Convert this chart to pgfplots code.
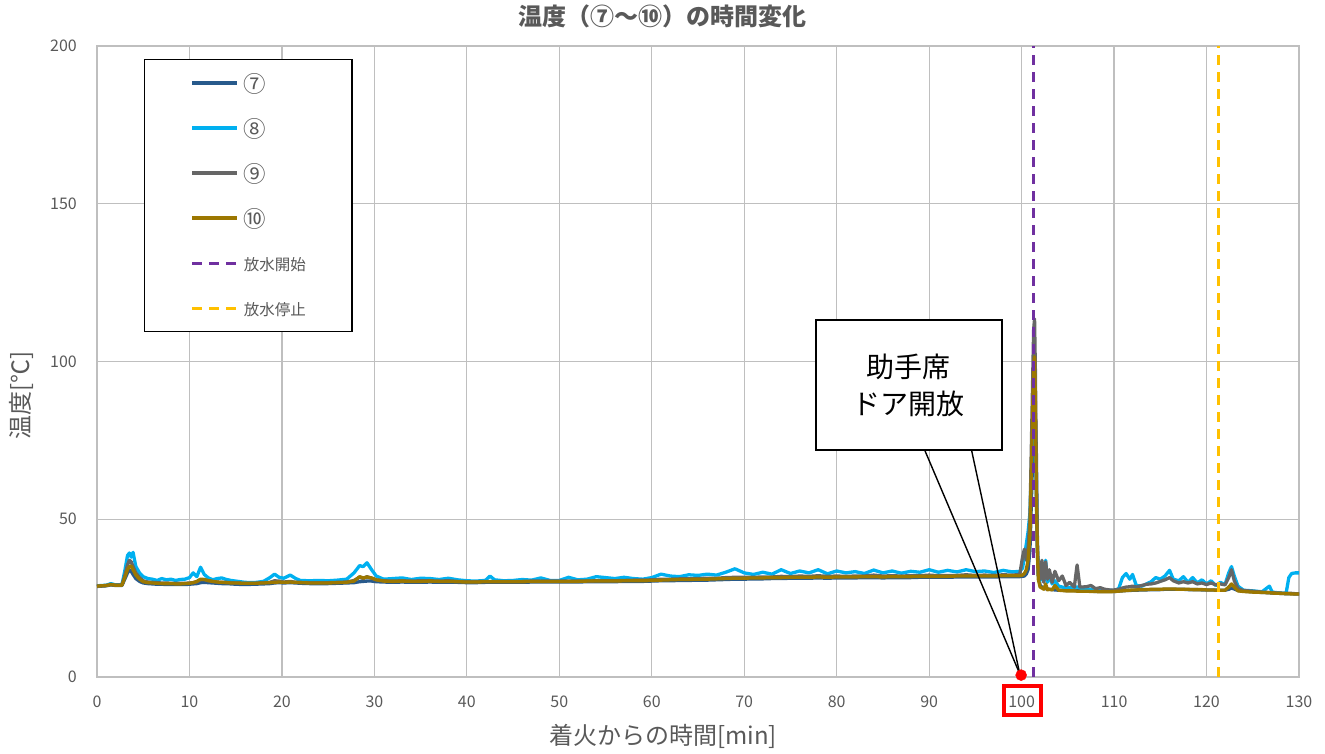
\documentclass[border=0pt]{standalone}
\usepackage{fontspec}
\setmainfont{Noto Sans CJK JP}
\usepackage{pgfplots}
\usepackage{pgfplotstable}
\pgfplotsset{compat=1.18}
\definecolor{c7}{HTML}{285A8C}
\definecolor{c8}{HTML}{00B0F0}
\definecolor{c9}{HTML}{666666}
\definecolor{c10}{HTML}{9C7700}
\definecolor{cstart}{HTML}{7030A0}
\definecolor{cstop}{HTML}{FFC000}
\definecolor{txt}{HTML}{595959}
\definecolor{gridc}{HTML}{BFBFBF}
\newcommand{\cn}[1]{\raisebox{-1.5pt}{\scalebox{1.45}{#1}}}
\pgfplotstableread{
t s7 s8 s9 s10
0 28.7 28.9 28.8 28.8
1 28.9 29.1 29.0 29.0
1.5 29.2 29.6 29.3 29.3
2 29.0 29.2 29.1 29.1
2.7 29.0 29.3 29.2 29.1
3.0 31.0 33.5 32.0 31.5
3.3 33.0 38.5 35.5 34.0
3.5 33.8 39.3 37.0 35.0
3.7 33.5 38.0 36.5 35.2
3.9 32.5 39.5 35.0 34.0
4.2 31.2 35.0 33.0 32.3
4.6 30.3 33.0 31.5 31.0
5.0 29.8 31.8 30.5 30.2
5.5 29.6 31.2 30.1 29.9
6 29.5 31.0 30.0 29.8
6.5 29.4 30.6 29.9 29.7
7 29.4 31.2 29.8 29.6
7.5 29.3 30.8 29.8 29.6
8 29.3 31.0 29.7 29.6
8.5 29.3 30.6 29.7 29.5
9 29.3 30.9 29.7 29.5
9.5 29.3 31.0 29.7 29.6
10 29.4 31.5 29.8 29.7
10.4 29.5 33.0 29.9 29.9
10.8 29.6 31.8 30.2 30.3
11.2 29.9 34.8 30.8 31.0
11.6 30.0 32.5 30.9 30.9
12 29.9 31.5 30.5 30.6
12.5 29.8 30.8 30.3 30.3
13 29.7 31.2 30.1 30.1
13.5 29.6 31.4 30.0 30.0
14 29.6 30.9 30.0 29.9
14.5 29.5 30.6 29.9 29.8
15 29.4 30.4 29.8 29.8
16 29.3 30.0 29.7 29.7
17 29.4 29.9 29.7 29.7
18 29.5 30.3 29.9 29.8
18.7 29.6 31.5 30.0 29.9
19.2 29.8 32.6 30.5 30.0
19.7 29.9 31.6 30.4 30.1
20.2 29.8 31.3 30.1 30.0
20.9 29.9 32.3 30.3 30.1
21.5 29.8 31.2 30.0 30.0
22 29.7 30.6 30.0 29.9
23 29.6 30.5 29.9 29.8
24 29.6 30.6 29.9 29.8
25 29.6 30.5 29.9 29.8
26 29.7 30.7 30.0 29.9
27 29.8 31.0 30.1 30.0
27.8 29.9 33.0 30.6 30.4
28.4 30.2 35.3 31.6 31.8
28.8 30.3 35.0 31.2 31.4
29.2 30.4 36.2 31.8 31.7
29.7 30.4 34.0 31.3 31.4
30.2 30.2 32.0 30.8 30.8
31 30.1 31.0 30.5 30.4
32 30.0 31.2 30.4 30.3
33 30.1 31.4 30.5 30.4
34 30.0 30.9 30.4 30.3
35 30.0 31.3 30.5 30.3
36 30.1 31.2 30.5 30.4
37 30.0 30.9 30.4 30.3
38 30.0 31.3 30.5 30.3
39 30.0 30.8 30.3 30.2
40 29.9 30.5 30.2 30.1
41 29.9 30.4 30.2 30.1
42 30.0 30.6 30.3 30.2
42.5 30.0 32.0 30.3 30.2
43 30.0 30.8 30.3 30.2
44 30.0 30.5 30.3 30.2
45 30.0 30.6 30.3 30.2
46 30.0 30.9 30.3 30.2
47 30.1 30.7 30.4 30.3
48 30.1 31.4 30.4 30.3
49 30.1 30.6 30.4 30.3
50 30.1 30.6 30.4 30.3
51 30.1 31.6 30.4 30.3
52 30.1 30.8 30.4 30.3
53 30.2 31.0 30.4 30.4
54 30.2 31.8 30.5 30.4
55 30.2 31.5 30.5 30.4
56 30.2 31.2 30.5 30.4
57 30.3 31.6 30.6 30.5
58 30.3 31.2 30.7 30.5
59 30.3 31.0 30.7 30.5
60 30.4 31.5 30.8 30.6
61 30.5 32.6 31.0 30.7
62 30.5 32.0 31.0 30.8
63 30.6 31.8 31.1 30.9
64 30.6 32.4 31.1 30.9
65 30.7 32.2 31.2 31.0
66 30.7 32.6 31.3 31.0
67 30.8 32.3 31.3 31.1
68 30.9 33.2 31.5 31.2
69 31.0 34.3 31.6 31.3
70 31.0 33.0 31.6 31.3
71 31.1 32.5 31.6 31.4
72 31.1 33.2 31.7 31.4
73 31.2 32.6 31.7 31.5
74 31.2 34.0 31.9 31.5
75 31.3 32.8 31.8 31.6
76 31.3 33.6 32.0 31.6
77 31.3 33.0 31.9 31.6
78 31.4 34.0 32.1 31.7
79 31.3 32.7 31.9 31.6
80 31.4 33.6 32.0 31.7
81 31.4 33.0 31.9 31.7
82 31.4 33.4 32.0 31.7
83 31.5 32.8 32.0 31.8
84 31.5 33.9 32.3 31.8
85 31.4 33.0 32.0 31.7
86 31.5 33.6 32.1 31.8
87 31.5 32.9 32.0 31.8
88 31.5 33.5 32.1 31.8
89 31.6 33.2 32.1 31.9
90 31.6 34.0 32.3 31.9
91 31.6 33.2 32.1 31.9
92 31.6 33.8 32.2 31.9
93 31.7 33.3 32.2 32.0
94 31.7 34.0 32.4 32.0
95 31.7 33.4 32.2 32.0
96 31.7 33.6 32.3 32.0
97 31.7 33.1 32.2 32.0
98 31.8 33.8 32.4 32.1
99 31.8 33.3 32.3 32.1
99.8 31.8 33.5 32.5 32.1
100.1 31.9 34.5 38.0 32.3
100.3 32.0 38.0 40.5 32.8
100.5 32.6 42.0 37.0 34.0
100.7 34.0 46.0 41.0 37.0
100.9 40.0 52.0 50.0 45.0
101.1 60.0 70.0 80.0 72.0
101.3 80.0 88.0 110.0 98.0
101.4 84.0 86.0 113.5 101.5
101.5 83.5 74.0 95.0 85.0
101.6 70.0 55.0 60.0 57.0
101.7 45.0 40.0 42.0 40.0
101.8 33.0 32.0 34.0 31.0
102.0 29.0 30.5 31.0 28.5
102.2 28.5 36.0 37.0 28.2
102.4 28.2 30.5 30.0 27.8
102.6 28.0 37.0 36.5 29.5
102.8 27.9 30.0 31.0 27.6
103.0 27.8 32.5 34.0 27.8
103.3 27.7 29.5 30.0 27.6
103.6 27.6 30.5 33.5 29.0
104.0 27.5 28.8 30.5 27.5
104.4 27.5 28.5 32.0 27.4
104.8 27.4 28.3 29.0 27.3
105.2 27.4 28.4 30.0 27.3
105.7 27.4 28.2 28.5 27.3
106.0 27.3 28.6 35.5 27.2
106.3 27.3 28.2 28.5 27.2
107 27.2 27.9 28.6 27.2
107.5 27.2 27.8 29.0 27.1
108 27.1 27.7 28.0 27.1
108.5 27.1 27.7 28.3 27.0
109 27.1 27.6 27.8 27.0
109.5 27.1 27.5 27.6 27.0
110 27.1 27.4 27.6 27.1
110.5 27.2 28.0 27.8 27.2
110.9 27.3 31.5 28.2 27.3
111.3 27.4 32.8 28.5 27.4
111.7 27.4 31.0 28.6 27.5
112.0 27.5 32.5 28.8 27.6
112.4 27.5 29.0 28.5 27.6
113 27.6 28.8 29.0 27.7
113.5 27.6 29.5 29.4 27.7
114 27.7 30.2 29.5 27.8
114.5 27.7 31.5 29.8 27.8
115 27.7 31.0 30.3 27.8
115.5 27.8 32.0 30.8 27.9
116 27.8 33.8 31.5 27.9
116.4 27.8 31.0 30.5 27.9
117 27.8 30.5 29.8 27.8
117.5 27.8 31.8 30.2 27.8
118 27.7 30.0 29.8 27.8
118.5 27.7 31.5 30.2 27.7
119 27.7 29.8 29.5 27.7
119.5 27.6 30.8 29.8 27.7
120 27.6 29.5 29.3 27.6
120.5 27.6 30.5 29.8 27.6
121 27.6 29.0 29.2 27.5
121.5 27.5 30.0 29.5 27.5
122 27.5 29.3 29.2 27.5
122.4 27.8 33.0 31.5 28.5
122.7 28.2 35.0 34.0 29.5
123.0 27.9 32.0 30.5 28.5
123.4 27.4 28.8 28.0 27.3
124 27.2 27.5 27.4 27.1
125 27.0 27.3 27.2 26.9
126 26.8 27.0 26.9 26.8
126.8 26.7 28.8 26.8 26.7
127.1 26.6 26.9 26.7 26.6
128 26.5 26.6 26.6 26.5
128.6 26.4 26.5 26.5 26.4
128.9 26.4 31.5 26.5 26.4
129.2 26.4 32.8 26.5 26.3
129.6 26.3 33.0 26.4 26.3
130 26.3 33.0 26.4 26.3
}\tempdata
\begin{document}
\begin{tikzpicture}
\path[use as bounding box] (-97pt,-77pt) rectangle (1228pt,677pt);
\begin{axis}[
  scale only axis, width=1202pt, height=631pt,
  xmin=0, xmax=130, ymin=0, ymax=200,
  xtick={0,10,...,130}, ytick={0,50,...,200},
  major tick length=0pt,
  grid=major,
  grid style={draw=gridc, line width=1.3pt},
  axis line style={draw=gridc, line width=1.3pt},
  clip=false,
  /pgf/number format/assume math mode=true,
  ticklabel style={font=\fontsize{16}{16}\selectfont, text=txt},
  xticklabel style={anchor=center, yshift=-25pt},
  yticklabel style={anchor=east, inner sep=0pt, xshift=-20pt},
  title={\bfseries 温度（⑦〜⑩）の時間変化},
  title style={at={(0.4705,1.038)}, anchor=center, font=\fontsize{24}{24}\selectfont, text=txt},
  xlabel={着火からの時間[min]},
  xlabel style={at={(0.4709,-0.0935)}, anchor=center, font=\fontsize{24}{24}\selectfont, text=txt},
  ylabel={温度[℃]},
  ylabel style={at={(-0.0632,0.4461)}, anchor=center, rotate=0, font=\fontsize{24}{24}\selectfont, text=txt},
  legend cell align=left,
  legend image code/.code={\draw[#1] (0pt,0pt) -- (45pt,0pt);},
  legend style={at={(0.0391,0.9794)}, anchor=north west, draw=black, line width=1.3pt, fill=white,
    inner xsep=46pt, inner ysep=16pt, row sep=30pt,
    font=\fontsize{15.5}{15.5}\selectfont, text=txt,
    nodes={inner sep=0pt, text height=15pt, text depth=0pt},
    /tikz/every odd column/.append style={column sep=5pt}},
  every axis plot/.append style={line join=round},
]
\addplot[c7, line width=3.3pt] table[x=t, y=s7] {\tempdata};
\addlegendentry{\cn{⑦}}
\addplot[c8, line width=3.3pt] table[x=t, y=s8] {\tempdata};
\addlegendentry{\cn{⑧}}
\addplot[c9, line width=3.3pt] table[x=t, y=s9] {\tempdata};
\addlegendentry{\cn{⑨}}
\addplot[c10, line width=3.3pt] table[x=t, y=s10] {\tempdata};
\addlegendentry{\cn{⑩}}
\addplot[cstart, line width=3pt, dash pattern=on 10pt off 7pt] coordinates {(101.3,0) (101.3,200)};
\addlegendentry{放水開始}
\addplot[cstop, line width=3pt, dash pattern=on 10pt off 7pt] coordinates {(121.25,0) (121.25,200)};
\addlegendentry{放水停止}
\addplot[only marks, mark=*, mark size=5.5pt, color=red, forget plot] coordinates {(99.95,0.6)};
\draw[black, line width=1.4pt] (axis cs:89.55,71.7) -- (axis cs:99.8,1.0);
\draw[black, line width=1.4pt] (axis cs:94.6,71.7) -- (axis cs:99.8,1.0);
\node[draw=black, line width=1.4pt, fill=white, minimum width=186pt, minimum height=130pt, align=center,
  font=\fontsize{28}{37}\selectfont, text=black, inner sep=0pt] at (axis cs:87.81,92.55) {助手席\\ドア開放};
\draw[red, line width=4pt] (axis cs:98.06,-2.95) rectangle (axis cs:102.06,-11.95);
\end{axis}
\end{tikzpicture}
\end{document}
